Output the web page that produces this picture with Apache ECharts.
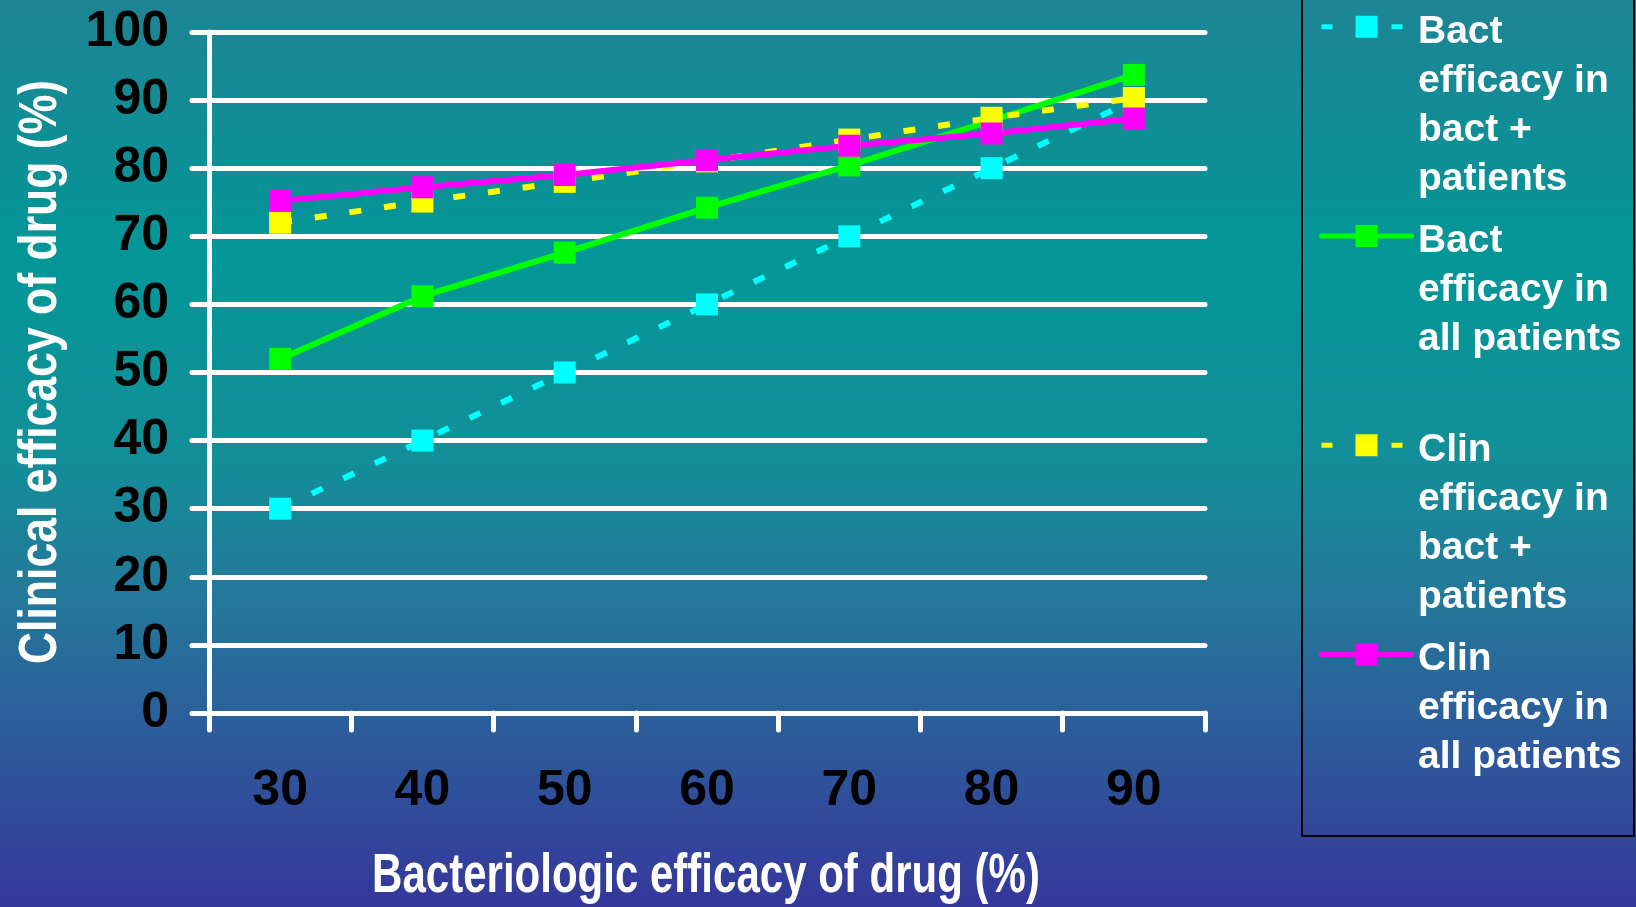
<!DOCTYPE html>
<html>
<head>
<meta charset="utf-8">
<script src="https://cdn.jsdelivr.net/npm/echarts@6.0.0/dist/echarts.min.js"></script>
<style>
html,body{margin:0;padding:0;width:1636px;height:907px;overflow:hidden;}
#chart{width:1636px;height:907px;}
</style>
</head>
<body>
<div id="chart"></div>
<script>
// ---- data ----
const categories = ['30', '40', '50', '60', '70', '80', '90'];
const seriesNames = [
  'Bact\nefficacy in\nbact +\npatients',
  'Bact\nefficacy in\nall patients',
  'Clin\nefficacy in\nbact +\npatients',
  'Clin\nefficacy in\nall patients'
];
const bactInBactPos = [30, 40, 50, 60, 70, 80, 90];
const bactInAll = [52, 61.2, 67.6, 74.2, 80.4, 87, 93.7];
const clinInBactPos = [72, 75.1, 78, 81, 84.2, 87.4, 90.3];
const clinInAll = [75.2, 77.2, 79, 81.2, 83.3, 85.1, 87.3];
const yTicks = [0, 10, 20, 30, 40, 50, 60, 70, 80, 90, 100];
const xTitle = 'Bacteriologic efficacy of drug (%)';
const yTitle = 'Clinical efficacy of drug (%)';

// ---- styles ----
const colors = ['#00ffff', '#00ff00', '#ffff00', '#ff00ff'];
const dashed = [true, false, true, false];
const values = [bactInBactPos, bactInAll, clinInBactPos, clinInAll];

const chart = echarts.init(document.getElementById('chart'), null, {renderer: 'canvas'});

const legendTop = 13;
const legendItemH = 27.5;
const legendPitch = 212;

const series = values.map((v, i) => ({
  name: seriesNames[i],
  type: 'line',
  data: v,
  symbol: 'rect',
  symbolSize: 22,
  smooth: false,
  color: colors[i],
  itemStyle: {color: colors[i], borderWidth: 0},
  lineStyle: {
    color: colors[i],
    width: 6,
    type: dashed[i] ? [12, 23] : 'solid',
    cap: dashed[i] ? 'butt' : 'round'
  },
  emphasis: {disabled: true},
  animation: false
}));

const legendTexts = seriesNames.map((n, i) => ({
  type: 'text',
  left: 1418,
  top: legendTop + legendItemH / 2 + i * 209 - 19,
  style: {
    text: n,
    fill: '#ffffff',
    font: 'bold 39px "Liberation Sans", Arial, sans-serif',
    lineHeight: 49
  }
}));

chart.setOption({
  animation: false,
  backgroundColor: {
    type: 'linear', x: 0, y: 0, x2: 0, y2: 1,
    colorStops: [
      {offset: 0, color: '#1e8494'},
      {offset: 0.28, color: '#039797'},
      {offset: 0.5, color: '#128f98'},
      {offset: 0.66, color: '#24789a'},
      {offset: 0.82, color: '#2d5a9a'},
      {offset: 1, color: '#35379a'}
    ]
  },
  grid: {left: 209, right: 431, top: 32, bottom: 194, containLabel: false, outerBoundsMode: 'none'},
  legend: {
    orient: 'vertical',
    left: 1319,
    top: legendTop,
    padding: 0,
    itemWidth: 90,
    itemHeight: legendItemH,
    itemGap: legendPitch - legendItemH,
    selectedMode: false,
    formatter: () => '',
    lineStyle: {width: 5, cap: 'round'},
    data: seriesNames.map((n, i) => ({
      name: n,
      lineStyle: dashed[i] ? {width: 5, cap: 'butt', type: [11, 24]} : {width: 5, cap: 'round'}
    }))
  },
  xAxis: {
    type: 'category',
    data: categories,
    boundaryGap: true,
    axisLine: {show: true, lineStyle: {color: '#ffffff', width: 5, cap: 'round'}},
    axisTick: {show: true, alignWithLabel: false, interval: 0, length: 17, lineStyle: {color: '#ffffff', width: 5, cap: 'round'}},
    axisLabel: {
      interval: 0,
      margin: 53,
      color: '#000000',
      fontSize: 50,
      fontWeight: 'bold',
      fontFamily: '"Liberation Sans", Arial, sans-serif'
    },
    splitLine: {show: false}
  },
  yAxis: {
    type: 'value',
    min: yTicks[0],
    max: yTicks[yTicks.length - 1],
    interval: yTicks[1] - yTicks[0],
    axisLine: {show: true, lineStyle: {color: '#ffffff', width: 5, cap: 'round'}},
    axisTick: {show: true, length: 17, lineStyle: {color: '#ffffff', width: 5, cap: 'round'}},
    axisLabel: {
      margin: 40,
      color: '#000000',
      fontSize: 50,
      fontWeight: 'bold',
      fontFamily: '"Liberation Sans", Arial, sans-serif'
    },
    splitLine: {show: true, lineStyle: {color: '#ffffff', width: 5, cap: 'round'}}
  },
  graphic: [
    {
      type: 'rect',
      shape: {x: 1302, y: -2, width: 332, height: 838},
      style: {fill: 'none', stroke: '#000000', lineWidth: 2},
      silent: true
    },
    {
      type: 'text',
      x: 706, y: 877,
      scaleX: 0.764,
      style: {
        text: xTitle,
        fill: '#ffffff',
        font: 'bold 55px "Liberation Sans", Arial, sans-serif',
        align: 'center',
        verticalAlign: 'middle'
      }
    },
    {
      type: 'text',
      x: 41, y: 372,
      rotation: Math.PI / 2,
      scaleX: 0.825,
      style: {
        text: yTitle,
        fill: '#ffffff',
        font: 'bold 54px "Liberation Sans", Arial, sans-serif',
        align: 'center',
        verticalAlign: 'middle'
      }
    }
  ].concat(legendTexts),
  series: series
});
</script>
</body>
</html>
